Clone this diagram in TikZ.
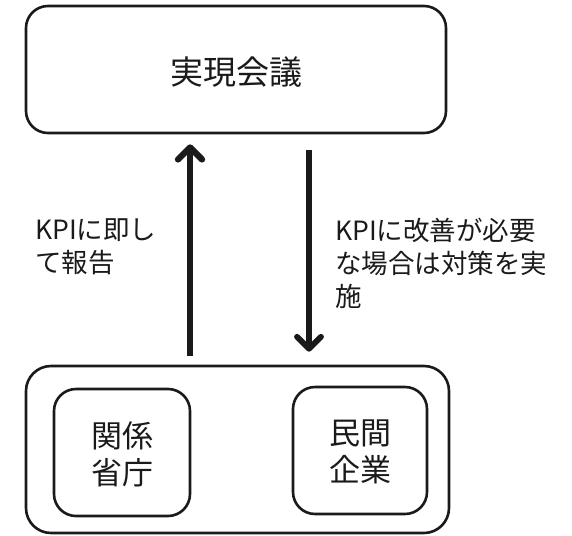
\documentclass[tikz,border=0pt]{standalone}
\usepackage{fontspec}
\setmainfont{Noto Sans CJK JP}
\usetikzlibrary{arrows.meta}
\definecolor{ink}{HTML}{1A1A1A}
\tikzset{
  box/.style={draw=ink, line width=2.6pt, rounded corners=22pt, inner sep=0pt},
  bigtxt/.style={font=\fontsize{31pt}{37pt}\selectfont, text=ink, align=center},
  lbl/.style={font=\fontsize{26.5pt}{33pt}\selectfont, text=ink, align=left, inner sep=0pt},
  arr/.style={draw=ink, -{Straight Barb[length=12pt,width=24pt,line cap=round,line join=round]}}
}
\begin{document}
\begin{tikzpicture}[x=1pt,y=-1pt]
\useasboundingbox (0,0) rectangle (572,535);
\node[box, minimum width=420pt, minimum height=127pt] (kaigi) at (236,69.5) {};
\node[bigtxt, font=\fontsize{33pt}{37pt}\selectfont] (kaigitxt) at (236,72) {実現会議};
\node[box, rounded corners=25pt, minimum width=423pt, minimum height=167pt] (group) at (237.5,449.5) {};
\node[box, minimum width=136pt, minimum height=127pt] (gov) at (122,452.5) {};
\node[bigtxt] (govtxt) at (122,454) {関係\\省庁};
\node[box, minimum width=134pt, minimum height=127pt] (corp) at (360,450.5) {};
\node[bigtxt] (corptxt) at (360,452) {民間\\企業};
\coordinate (upx) at (190,0);
\coordinate (downx) at (309,0);
\draw[arr, line width=6.3pt, shorten <=9pt, shorten >=10pt] (group.north -| upx) -- (kaigi.south -| upx);
\draw[arr, line width=5.8pt, shorten <=16pt, shorten >=13pt] (kaigi.south -| downx) -- (group.north -| downx);
\node[lbl, anchor=north west] (report) at (35,218) {KPIに即し\\て報告};
\node[lbl, anchor=north west] (action) at (335,218) {KPIに改善が必要\\な場合は対策を実\\施};
\end{tikzpicture}
\end{document}
